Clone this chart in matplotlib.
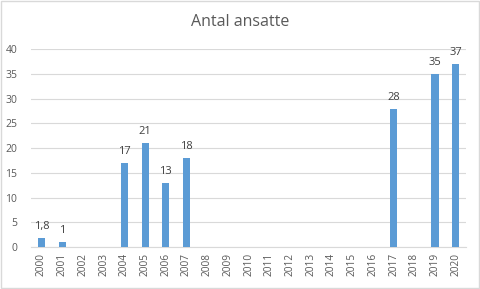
import matplotlib
matplotlib.use("Agg")
import matplotlib.pyplot as plt
import numpy as np

years = [str(y) for y in range(2000, 2021)]
values = [1.8, 1, 0, 0, 17, 21, 13, 18, 0, 0, 0, 0, 0, 0, 0, 0, 0, 28, 0, 35, 37]

TEXT = "#595959"
BAR = "#5B9BD5"
GRID = "#D9D9D9"

plt.rcParams["font.family"] = ["Open Sans", "DejaVu Sans"]

fig = plt.figure(figsize=(4.8, 2.89), dpi=100)
ax = fig.add_axes([0.065, 0.145, 0.906, 0.685])

x = np.arange(len(years))
bars = ax.bar(x, values, width=0.34, color=BAR, zorder=3)
for xi, v in zip(x, values):
    if v:
        lbl = f"{v:g}".replace(".", ",")
        ax.text(xi, v + 1.2, lbl, ha="center", va="bottom", fontsize=8, color="#404040")

ax.set_xlim(-0.5, len(years) - 0.5)
ax.set_ylim(0, 40)
ax.set_yticks(range(0, 41, 5))
ax.set_xticks(x)
ax.set_xticklabels(years, rotation=90, fontsize=7.3, color=TEXT)
ax.tick_params(axis="y", labelsize=7.5, colors=TEXT, length=0, pad=10)
ax.tick_params(axis="x", length=0, pad=4)
ax.grid(axis="y", color=GRID, lw=0.8, zorder=0)
for side in ["top", "right", "left"]:
    ax.spines[side].set_visible(False)
ax.spines["bottom"].set_color(GRID)

fig.text(0.5, 0.925, "Antal ansatte", ha="center", va="center", fontsize=11.5, color=TEXT)
fig.patches.append(plt.Rectangle((0.002, 0.003), 0.995, 0.994, transform=fig.transFigure,
                                 fill=False, edgecolor=GRID, lw=1))

fig.savefig("out.png", dpi=100)
